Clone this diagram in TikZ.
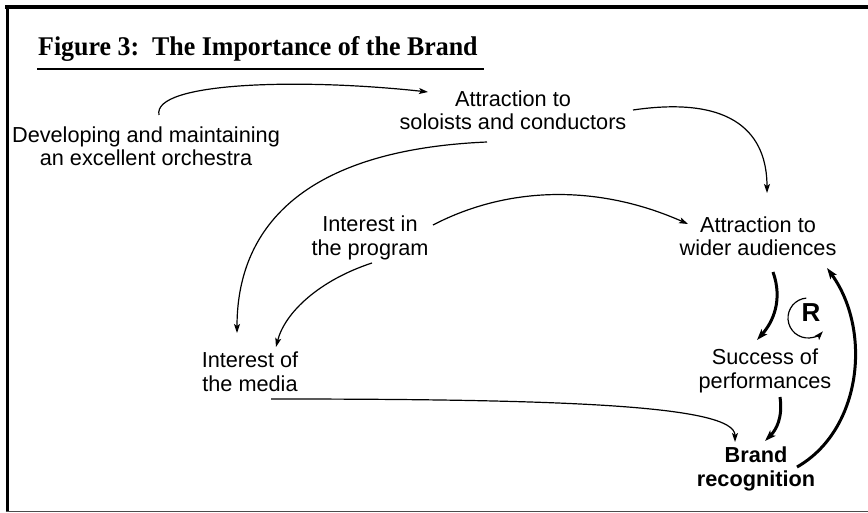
\documentclass[tikz,border=0pt]{standalone}
\usepackage{fontspec}
\setmainfont{Liberation Sans}
\newfontfamily\titlefont{Liberation Serif}[FakeStretch=0.96]
\usetikzlibrary{arrows.meta,calc}
\tikzset{
  lbl/.style={inner sep=0pt, align=center, font=\fontsize{21.7}{23.5}\selectfont},
  blbl/.style={lbl, font=\fontsize{21.7}{23.5}\selectfont\bfseries},
  thinarr/.style={line width=1.2pt, -{Stealth[length=9pt,width=6pt,inset=2pt]}},
  thickarr/.style={line width=3pt, -{Stealth[length=11pt,width=7.5pt,inset=2.5pt]}},
}
\begin{document}
\begin{tikzpicture}[x=1pt,y=-1pt]
\useasboundingbox (0,0) rectangle (868,513);
% frame
\draw[line width=4pt] (5,7.3) -- (868,7.3);
\draw[line width=3.6pt] (7.3,5.3) -- (7.3,512);
\draw[line width=1pt, black!70] (5.5,511.5) -- (868,511.5);
% title
\node[anchor=base west, inner sep=0pt, font=\titlefont\bfseries\fontsize{27}{30}\selectfont] (title) at (38,56) {Figure 3:\ \ The Importance of the Brand};
\draw[line width=2.2pt] (37,68.8) -- (484,68.8);
% nodes
\node[lbl] (dev) at (146,146) {Developing and maintaining\\an excellent orchestra};
\node[lbl] (sol) at (513,110) {Attraction to\\soloists and conductors};
\node[lbl] (prog) at (370,238) {Interest in\\the program};
\node[lbl] (media) at (250,372) {Interest of\\the media};
\node[lbl] (wide) at (758,236) {Attraction to\\wider audiences};
\node[lbl] (succ) at (765,371) {Success of\\performances};
\node[blbl] (brand) at (756,469) {Brand\\recognition};
\node[inner sep=0pt, font=\fontsize{26}{28}\selectfont\bfseries] (R) at (811,313) {R};
% thin connectors
\draw[thinarr] ($(dev)+(13,-31)$) .. controls (152,82) and (300,78) .. ($(sol)+(-85,-18)$);
\draw[thinarr] ($(sol)+(120,0)$) .. controls (735,95) and (767,135) .. ($(wide)+(9,-43)$);
\draw[thinarr] ($(sol)+(-26,32)$) .. controls (300,150) and (237,230) .. ($(media)+(-13,-39)$);
\draw[thinarr] ($(prog)+(63,-13)$) .. controls (510,185) and (600,185) .. ($(wide)+(-70,-12)$);
\draw[thinarr] ($(prog)+(2,25)$) .. controls (320,280) and (285,312) .. ($(media)+(26,-25)$);
\draw[thinarr] ($(media)+(21,27)$) .. controls (560,399) and (735,405) .. ($(brand)+(-21,-27)$);
% thick connectors
\draw[thickarr] ($(wide)+(15,36)$) .. controls (783,300) and (773,322) .. ($(succ)+(-8,-31)$);
\draw[thickarr] ($(succ)+(15,26)$) .. controls (783,418) and (776,430) .. ($(brand)+(9,-28)$);
\draw[thickarr] ($(brand)+(41,-2)$) .. controls (862,430) and (872,330) .. ($(wide)+(69,32)$);
% loop
\coordinate (Rc) at ($(R)+(-3,5)$);
\draw[thinarr] ($(Rc)+(-95:20)$) arc[start angle=-95, end angle=-318, radius=20];
\end{tikzpicture}
\end{document}
